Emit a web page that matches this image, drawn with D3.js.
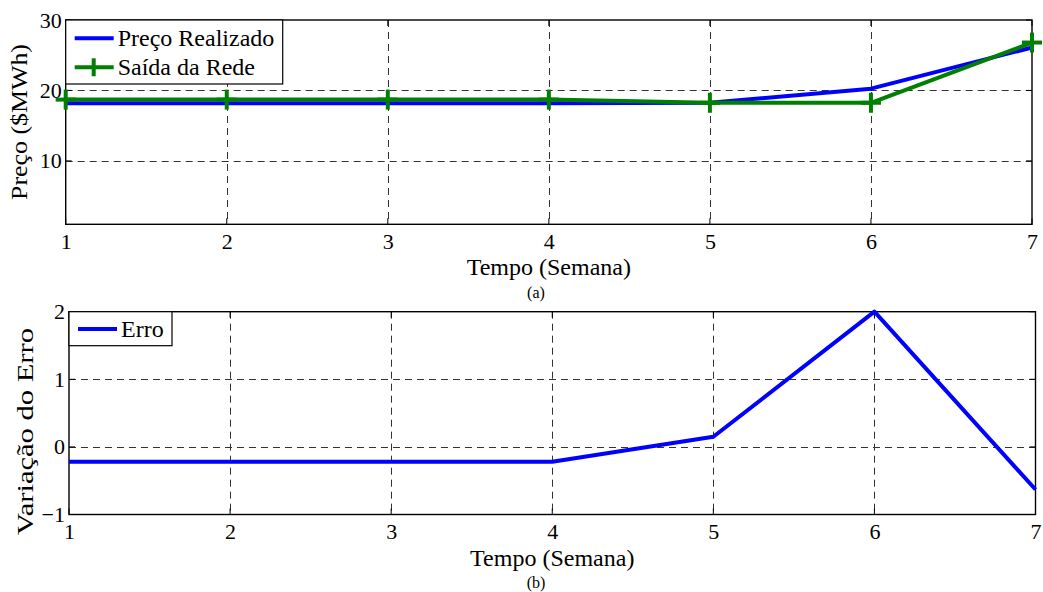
<!DOCTYPE html>
<html>
<head>
<meta charset="utf-8">
<script src="https://cdn.jsdelivr.net/npm/d3@7"></script>
<style>
  body { margin: 0; background: #fff; }
  svg { display: block; }
  text { font-family: "Liberation Serif", "Times New Roman", serif; fill: #000; }
</style>
</head>
<body>
<svg id="chart" width="1043" height="592"></svg>
<script>
// Weekly series
const weeks = [1, 2, 3, 4, 5, 6, 7];
const precoRealizado = [18.2, 18.2, 18.2, 18.2, 18.25, 20.25, 26.1];
const saidaRede = [18.7, 18.7, 18.7, 18.7, 18.25, 18.25, 26.8];
const erro = [-0.22, -0.22, -0.22, -0.22, 0.15, 2.0, -0.63];

// Tick labels
const xTicks = [1, 2, 3, 4, 5, 6, 7];
const priceTicks = [10, 20, 30];
const erroTicks = [-1, 0, 1, 2];

const svg = d3.select("#chart");
const BLUE = "#0000ff", GREEN = "#008000";

function panel(cfg) {
  const x = d3.scaleLinear().domain([1, 7]).range([cfg.left, cfg.right]);
  const y = d3.scaleLinear().domain(cfg.yDomain).range([cfg.bottom, cfg.top]);
  const g = svg.append("g");

  // dashed grid
  const grid = g.append("g").attr("stroke", "#333").attr("stroke-width", 1)
    .attr("stroke-dasharray", "7,5").attr("fill", "none");
  grid.selectAll("line.v").data(xTicks.filter(t => t > 1 && t < 7)).join("line")
    .attr("x1", d => Math.round(x(d)) + 0.5).attr("x2", d => Math.round(x(d)) + 0.5)
    .attr("y1", cfg.top).attr("y2", cfg.bottom);
  grid.selectAll("line.h").data(cfg.yTicks.filter(t => t > cfg.yDomain[0] && t < cfg.yDomain[1])).join("line")
    .attr("x1", cfg.left).attr("x2", cfg.right)
    .attr("y1", d => Math.round(y(d)) + 0.5).attr("y2", d => Math.round(y(d)) + 0.5);

  // inward tick marks on all four sides
  const tl = 6;
  const ticks = g.append("g").attr("stroke", "#000").attr("stroke-width", 1);
  xTicks.forEach(t => {
    ticks.append("line").attr("x1", x(t)).attr("x2", x(t)).attr("y1", cfg.bottom).attr("y2", cfg.bottom - tl);
    ticks.append("line").attr("x1", x(t)).attr("x2", x(t)).attr("y1", cfg.top).attr("y2", cfg.top + tl);
  });
  cfg.yTicks.forEach(t => {
    ticks.append("line").attr("x1", cfg.left).attr("x2", cfg.left + tl).attr("y1", y(t)).attr("y2", y(t));
    ticks.append("line").attr("x1", cfg.right).attr("x2", cfg.right - tl).attr("y1", y(t)).attr("y2", y(t));
  });

  // axis labels
  const ax = g.append("g").attr("transform", `translate(0,${cfg.bottom})`)
    .call(d3.axisBottom(x).tickValues(xTicks).tickSize(0).tickPadding(9).tickFormat(d3.format("d")));
  const ay = g.append("g").attr("transform", `translate(${cfg.left},0)`)
    .call(d3.axisLeft(y).tickValues(cfg.yTicks).tickSize(0).tickPadding(4).tickFormat(d3.format("d")));
  [ax, ay].forEach(a => {
    a.select(".domain").remove();
    a.selectAll("text").style("font-family", '"Liberation Serif","Times New Roman",serif')
      .style("font-size", "22px").attr("fill", "#000");
  });

  // frame
  g.append("rect").attr("x", cfg.left).attr("y", cfg.top)
    .attr("width", cfg.right - cfg.left).attr("height", cfg.bottom - cfg.top)
    .attr("fill", "none").attr("stroke", "#000").attr("stroke-width", 1.4);

  // titles
  g.append("text").attr("x", (cfg.left + cfg.right) / 2).attr("y", cfg.xLabelY)
    .attr("text-anchor", "middle").style("font-size", "24px").text("Tempo (Semana)");
  g.append("text").attr("x", 536).attr("y", cfg.captionY)
    .attr("text-anchor", "middle").style("font-size", "16px").text(cfg.caption);
  g.append("text")
    .attr("transform", `translate(${cfg.yLabelX},${cfg.yLabelY}) rotate(-90)`)
    .attr("text-anchor", "middle").style("font-size", "24px")
    .attr("textLength", cfg.yLabelLen).attr("lengthAdjust", "spacingAndGlyphs")
    .text(cfg.yLabel);

  return { g, x, y };
}

function drawSeries(p, values, color, withMarkers) {
  const line = d3.line().x((d, i) => p.x(weeks[i])).y(d => p.y(d));
  p.g.append("path").datum(values).attr("d", line)
    .attr("fill", "none").attr("stroke", color).attr("stroke-width", 4)
    .attr("stroke-linejoin", "round");
  if (withMarkers) {
    const m = 10;
    const mk = p.g.append("g").attr("stroke", color).attr("stroke-width", 4);
    values.forEach((v, i) => {
      const cx = p.x(weeks[i]), cy = p.y(v);
      mk.append("line").attr("x1", cx - m).attr("x2", cx + m).attr("y1", cy).attr("y2", cy);
      mk.append("line").attr("x1", cx).attr("x2", cx).attr("y1", cy - m).attr("y2", cy + m);
    });
  }
}

function legend(p, box, items) {
  p.g.append("rect").attr("x", box.x).attr("y", box.y).attr("width", box.w).attr("height", box.h)
    .attr("fill", "#fff").attr("stroke", "#000").attr("stroke-width", 1.2);
  items.forEach((it, i) => {
    const ly = box.y + box.first + i * box.step;
    p.g.append("line").attr("x1", box.x + 9).attr("x2", box.x + 48).attr("y1", ly).attr("y2", ly)
      .attr("stroke", it.color).attr("stroke-width", 4);
    if (it.marker) {
      const cx = box.x + 28;
      p.g.append("line").attr("x1", cx).attr("x2", cx).attr("y1", ly - 9).attr("y2", ly + 9)
        .attr("stroke", it.color).attr("stroke-width", 4);
    }
    p.g.append("text").attr("x", box.x + 52).attr("y", ly + 7.5)
      .style("font-size", "24px").text(it.label);
  });
}

// (a) price panel
const pa = panel({
  left: 65.7, right: 1032, top: 20, bottom: 224.3,
  yDomain: [1, 30], yTicks: priceTicks,
  xLabelY: 275, caption: "(a)", captionY: 298,
  yLabel: "Preço ($MWh)", yLabelX: 27, yLabelY: 122, yLabelLen: 156
});
drawSeries(pa, precoRealizado, BLUE, false);
drawSeries(pa, saidaRede, GREEN, true);
legend(pa, { x: 65.7, y: 20, w: 217, h: 64, first: 18.3, step: 29 }, [
  { label: "Preço Realizado", color: BLUE },
  { label: "Saída da Rede", color: GREEN, marker: true }
]);

// (b) error panel
const pb = panel({
  left: 69, right: 1035.5, top: 311.7, bottom: 514.5,
  yDomain: [-1, 2], yTicks: erroTicks,
  xLabelY: 566, caption: "(b)", captionY: 588,
  yLabel: "Variação do Erro", yLabelX: 33, yLabelY: 431.5, yLabelLen: 207
});
drawSeries(pb, erro, BLUE, false);
legend(pb, { x: 69, y: 311.7, w: 103, h: 34, first: 17.3, step: 0 }, [
  { label: "Erro", color: BLUE }
]);
</script>
</body>
</html>
